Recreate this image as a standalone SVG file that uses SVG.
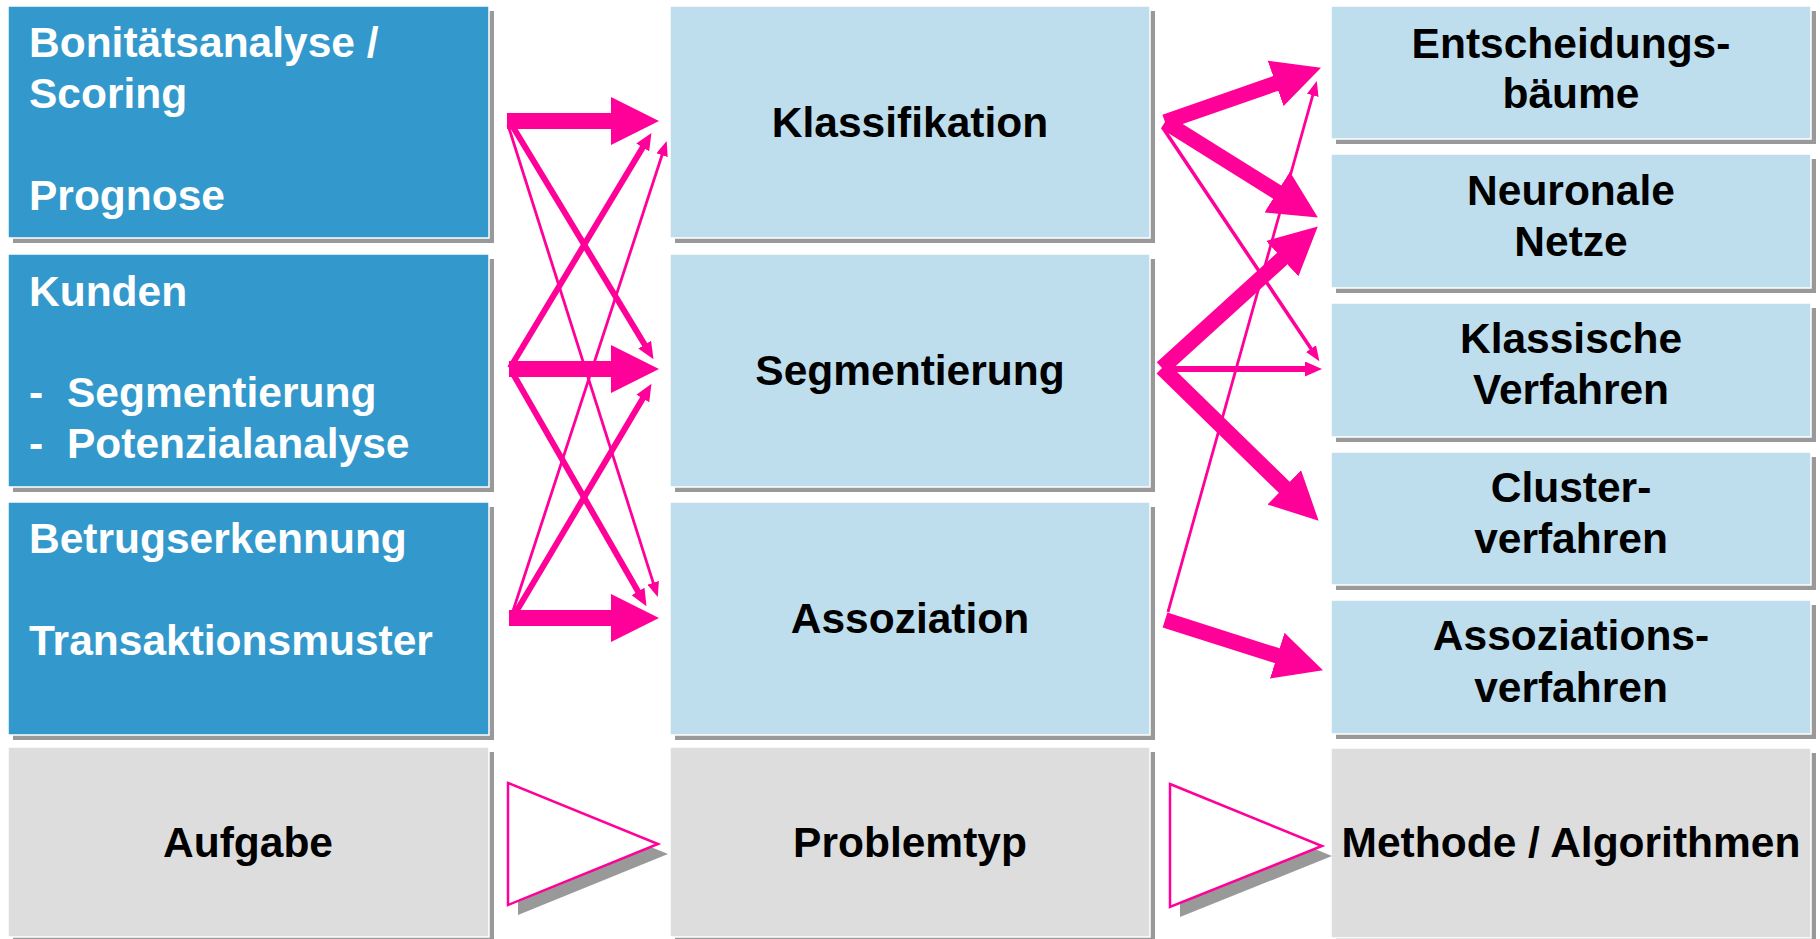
<svg xmlns="http://www.w3.org/2000/svg" width="1820" height="939" viewBox="0 0 1820 939">
<defs>
<style>
.sh{fill:#999999}
.dk{fill:#3399CC;stroke:#ffffff;stroke-width:1.5}
.lt{fill:#BEDEED;stroke:#ffffff;stroke-width:1.5}
.gr{fill:#DDDDDD;stroke:#ffffff;stroke-width:1.5}
text{font-family:"Liberation Sans",Arial,sans-serif;font-weight:bold;font-size:42.5px}
.w{fill:#ffffff}
.b{fill:#000000;text-anchor:middle}
.c{stroke:#FF0099;fill:none}
.thick{stroke-width:16;marker-end:url(#mThick)}
.thickR{stroke-width:15.5;marker-end:url(#mThick)}
.med{stroke-width:6;marker-end:url(#mMed)}
.thin{stroke-width:2.8;marker-end:url(#mThin)}
.tri{fill:#ffffff;stroke:#FF0099;stroke-width:2.5}
</style>
<marker id="mThick" markerUnits="userSpaceOnUse" viewBox="0 0 48 48" markerWidth="48" markerHeight="48" refX="1" refY="24" orient="auto"><path d="M0,0 L48,24 L0,48 z" fill="#FF0099"/></marker>
<marker id="mMed" markerUnits="userSpaceOnUse" viewBox="0 0 17 15" markerWidth="17" markerHeight="15" refX="1" refY="7.5" orient="auto"><path d="M0,0 L17,7.5 L0,15 z" fill="#FF0099"/></marker>
<marker id="mThin" markerUnits="userSpaceOnUse" viewBox="0 0 15 12" markerWidth="15" markerHeight="12" refX="1" refY="6" orient="auto"><path d="M0,0 L15,6 L0,12 z" fill="#FF0099"/></marker>
</defs>
<rect width="1820" height="939" fill="#ffffff"/>

<g id="aufgabe1">
<rect class="sh" x="13" y="11" width="481" height="232"/>
<rect class="dk" x="8" y="6" width="481" height="232"/>
<text class="w" x="29" y="57">Bonitätsanalyse /</text>
<text class="w" x="29" y="108">Scoring</text>
<text class="w" x="29" y="210">Prognose</text>
</g>
<g id="aufgabe2">
<rect class="sh" x="13" y="259" width="481" height="233"/>
<rect class="dk" x="8" y="254" width="481" height="233"/>
<text class="w" x="29" y="306">Kunden</text>
<text class="w" x="29" y="407">-</text>
<text class="w" x="67" y="407">Segmentierung</text>
<text class="w" x="29" y="458">-</text>
<text class="w" x="67" y="458">Potenzialanalyse</text>
</g>
<g id="aufgabe3">
<rect class="sh" x="13" y="507" width="481" height="233"/>
<rect class="dk" x="8" y="502" width="481" height="233"/>
<text class="w" x="29" y="553">Betrugserkennung</text>
<text class="w" x="29" y="655">Transaktionsmuster</text>
</g>
<g id="aufgabe">
<rect class="sh" x="13" y="752" width="481" height="190"/>
<rect class="gr" x="8" y="747" width="481" height="190"/>
<text class="b" x="248" y="857">Aufgabe</text>
</g>

<g id="klassifikation">
<rect class="sh" x="675" y="11" width="480" height="232"/>
<rect class="lt" x="670" y="6" width="480" height="232"/>
<text class="b" x="910" y="137">Klassifikation</text>
</g>
<g id="segmentierung">
<rect class="sh" x="675" y="259" width="480" height="233"/>
<rect class="lt" x="670" y="254" width="480" height="233"/>
<text class="b" x="910" y="385">Segmentierung</text>
</g>
<g id="assoziation">
<rect class="sh" x="675" y="507" width="480" height="233"/>
<rect class="lt" x="670" y="502" width="480" height="233"/>
<text class="b" x="910" y="633">Assoziation</text>
</g>
<g id="problemtyp">
<rect class="sh" x="675" y="752" width="480" height="190"/>
<rect class="gr" x="670" y="747" width="480" height="190"/>
<text class="b" x="910" y="857">Problemtyp</text>
</g>

<g id="entscheidungsbaeume">
<rect class="sh" x="1336" y="11" width="480" height="133"/>
<rect class="lt" x="1331" y="6" width="480" height="133"/>
<text class="b" x="1571" y="58">Entscheidungs-</text>
<text class="b" x="1571" y="108">bäume</text>
</g>
<g id="neuronale">
<rect class="sh" x="1336" y="159" width="480" height="134"/>
<rect class="lt" x="1331" y="154" width="480" height="134"/>
<text class="b" x="1571" y="205">Neuronale</text>
<text class="b" x="1571" y="256">Netze</text>
</g>
<g id="klassische">
<rect class="sh" x="1336" y="308" width="480" height="134"/>
<rect class="lt" x="1331" y="303" width="480" height="134"/>
<text class="b" x="1571" y="353">Klassische</text>
<text class="b" x="1571" y="404">Verfahren</text>
</g>
<g id="cluster">
<rect class="sh" x="1336" y="457" width="480" height="133"/>
<rect class="lt" x="1331" y="452" width="480" height="133"/>
<text class="b" x="1571" y="502">Cluster-</text>
<text class="b" x="1571" y="553">verfahren</text>
</g>
<g id="assoziationsverfahren">
<rect class="sh" x="1336" y="605" width="480" height="134"/>
<rect class="lt" x="1331" y="600" width="480" height="134"/>
<text class="b" x="1571" y="650">Assoziations-</text>
<text class="b" x="1571" y="702">verfahren</text>
</g>
<g id="methode">
<rect class="sh" x="1336" y="753" width="480" height="190"/>
<rect class="gr" x="1331" y="748" width="480" height="190"/>
<text class="b" x="1571" y="857">Methode / Algorithmen</text>
</g>

<g id="pfeil1">
<polygon class="sh" points="518,793 668,854 518,915"/>
<polygon class="tri" points="508,783 658,844 508,905"/>
</g>
<g id="pfeil2">
<polygon class="sh" points="1180,794 1332,856 1180,917"/>
<polygon class="tri" points="1170,784 1322,846 1170,907"/>
</g>

<g id="connectors">
<line class="c thick" x1="507" y1="121" x2="612" y2="121"/>
<line class="c thick" x1="509" y1="369" x2="612" y2="369"/>
<line class="c thick" x1="509" y1="618" x2="612" y2="618"/>
<line class="c med" x1="510" y1="122" x2="645.2" y2="345.5"/>
<line class="c med" x1="510" y1="368" x2="643.2" y2="146.6"/>
<line class="c med" x1="512" y1="372" x2="638.5" y2="592.3"/>
<line class="c med" x1="516" y1="612" x2="643.3" y2="397.6"/>
<line class="c thin" x1="508" y1="125" x2="653.5" y2="583.7"/>
<line class="c thin" x1="512" y1="614" x2="662.3" y2="154.3"/>

<line class="c thickR" x1="1165" y1="122" x2="1276.6" y2="83.1"/>
<line class="c thickR" x1="1165" y1="122" x2="1278" y2="192.6"/>
<line class="c thickR" x1="1162" y1="368" x2="1283" y2="258"/>
<line class="c thickR" x1="1162" y1="368" x2="1285" y2="488"/>
<line class="c thickR" x1="1165" y1="620" x2="1278.2" y2="656"/>
<line class="c med" x1="1162" y1="369" x2="1306" y2="369"/>
<line class="c thin" style="stroke-width:3.5" x1="1163" y1="128" x2="1311.6" y2="349.5"/>
<line class="c thin" x1="1168" y1="612" x2="1313" y2="94.4"/>
</g>
</svg>
